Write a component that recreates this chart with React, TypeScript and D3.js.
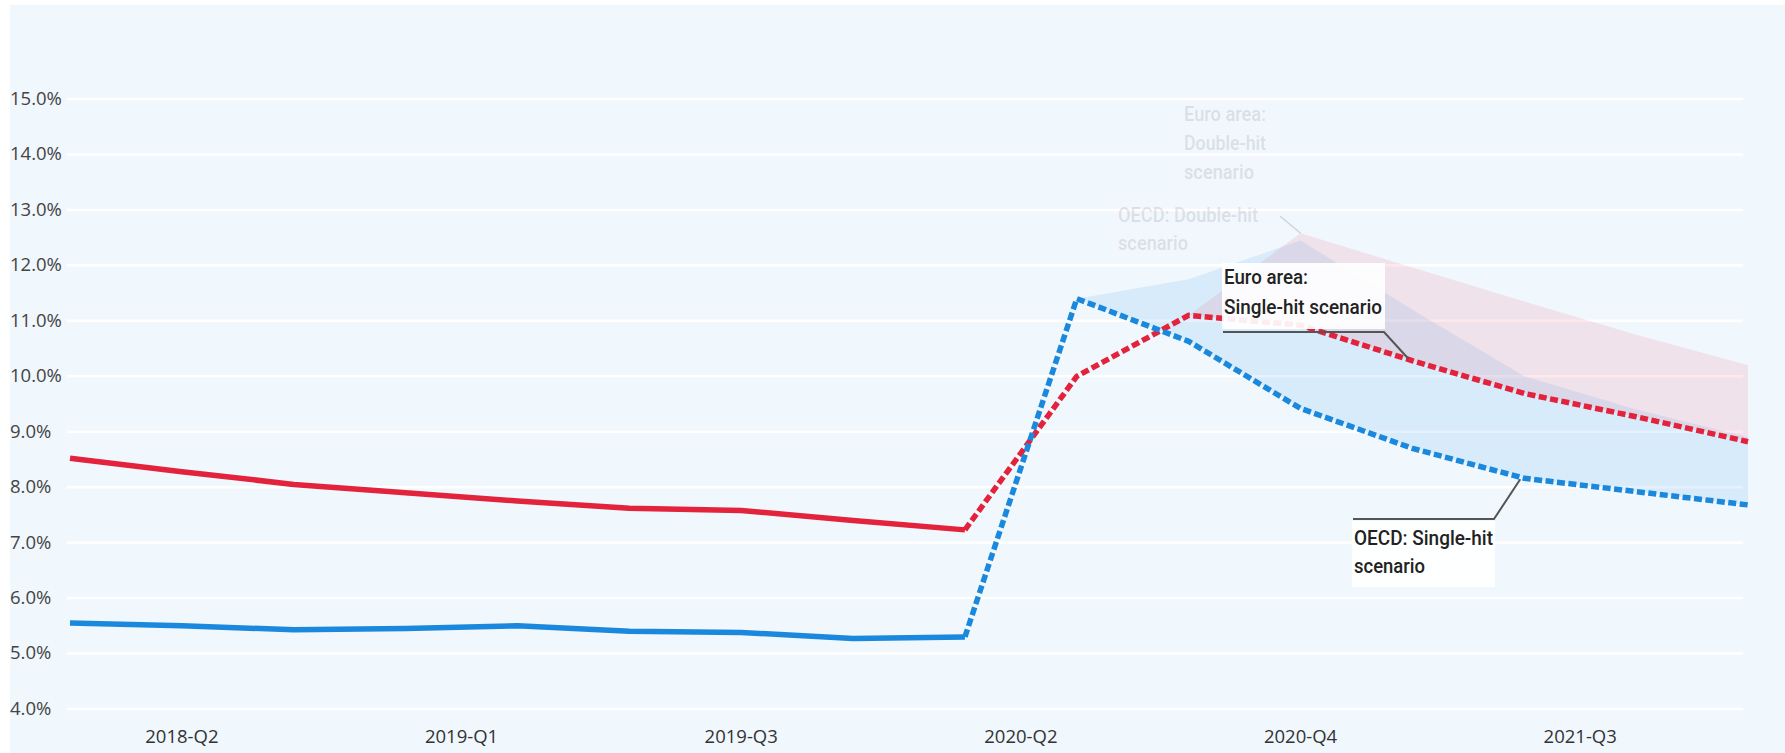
import React from "react";
import * as d3 from "d3";

const quarters = [
  "2018-Q1", "2018-Q2", "2018-Q3", "2018-Q4",
  "2019-Q1", "2019-Q2", "2019-Q3", "2019-Q4",
  "2020-Q1", "2020-Q2", "2020-Q3", "2020-Q4",
  "2021-Q1", "2021-Q2", "2021-Q3", "2021-Q4",
];
const euroSingle = [8.52, 8.28, 8.05, 7.9, 7.75, 7.62, 7.58, 7.4, 7.23, 10.0, 11.1, 10.92, 10.28, 9.69, 9.27, 8.82];
const oecdSingle = [5.55, 5.5, 5.43, 5.45, 5.5, 5.4, 5.38, 5.27, 5.3, 11.4, 10.63, 9.42, 8.7, 8.16, 7.92, 7.68];
const euroDouble: (number | null)[] = [null, null, null, null, null, null, null, null, null, null, 11.1, 12.58, 11.96, 11.35, 10.75, 10.2];
const oecdDouble: (number | null)[] = [null, null, null, null, null, null, null, null, null, 11.4, 11.75, 12.45, 11.2, 10.0, 9.4, 8.9];
const forecastStart = 8;
const yTicks = [4, 5, 6, 7, 8, 9, 10, 11, 12, 13, 14, 15];
const xTickPos = [1, 3.5, 6, 8.5, 11, 13.5];
const xTickLabels = ["2018-Q2", "2019-Q1", "2019-Q3", "2020-Q2", "2020-Q4", "2021-Q3"];

const W = 1785;
const H = 753;
const RED = "#e3223b";
const BLUE = "#1a88dd";

export default function App() {
  const x = d3.scaleLinear().domain([0, quarters.length - 1]).range([70, 1748]);
  const y = d3.scaleLinear().domain([4, 15]).range([709, 99]);
  const idx = quarters.map((_, i) => i);

  const mkLine = (vals: number[], from: number, to: number) =>
    d3
      .line<number>()
      .x((i) => x(i))
      .y((i) => y(vals[i]))(idx.slice(from, to + 1)) || "";

  const mkArea = (lo: number[], hi: (number | null)[]) =>
    d3
      .area<number>()
      .defined((i) => hi[i] != null)
      .x((i) => x(i))
      .y0((i) => y(lo[i]))
      .y1((i) => y(hi[i] as number))(idx) || "";

  const annFont = "Roboto, 'Noto Sans', sans-serif";
  const axisFont = "'Open Sans', 'Noto Sans', sans-serif";

  const euroLeadX = x(12);
  const euroLeadY = y(euroSingle[12]);
  const oecdLeadX = x(13);
  const oecdLeadY = y(oecdSingle[13]);
  const apexX = x(11);
  const apexY = y(euroDouble[11] as number);

  const ann = (tx: number, ty: number, s: string, len: number, key: string) => (
    <text
      key={key}
      x={tx}
      y={ty}
      fontFamily={annFont}
      fontWeight={500}
      fontSize={21}
      textLength={len}
      lengthAdjust="spacingAndGlyphs"
    >
      {s}
    </text>
  );

  return (
    <>
      <style>{`body{margin:0}`}</style>
      <svg width={W} height={H} style={{ display: "block" }}>
        <rect x={0} y={0} width={W} height={H} fill="#ffffff" />
        <rect x={10} y={5} width={W - 10} height={H - 5} fill="#f0f7fd" />

        {/* gridlines */}
        {yTicks.map((t) => (
          <line key={t} x1={67} x2={1743} y1={y(t)} y2={y(t)} stroke="#ffffff" strokeWidth={2.5} />
        ))}

        {/* y labels */}
        {yTicks.map((t) => (
          <text
            key={"l" + t}
            x={10}
            y={y(t) + 1}
            dominantBaseline="middle"
            fontFamily={axisFont}
            fontSize={18.5}
            fill="#444"
          >
            {d3.format(".1f")(t)}%
          </text>
        ))}

        {/* x labels */}
        {xTickPos.map((p, k) => (
          <text
            key={"x" + k}
            x={x(p)}
            y={738}
            textAnchor="middle"
            dominantBaseline="middle"
            fontFamily={axisFont}
            fontSize={18.5}
            fill="#333"
          >
            {xTickLabels[k]}
          </text>
        ))}

        {/* scenario areas */}
        <path d={mkArea(oecdSingle, oecdDouble)} fill="rgba(40,150,235,0.12)" />
        <path d={mkArea(euroSingle, euroDouble)} fill="rgba(240,70,100,0.12)" />

        {/* faint double-hit labels */}
        <g opacity={0.09} fill="#000">
          <rect x={1180} y={95} width={90} height={88} fill="#fff" />
          {ann(1184, 121, "Euro area:", 82, "e1")}
          {ann(1184, 150, "Double-hit", 82, "e2")}
          {ann(1184, 179, "scenario", 70, "e3")}
          <rect x={1114} y={195} width={160} height={62} fill="#fff" />
          {ann(1118, 222, "OECD: Double-hit", 140, "o1")}
          {ann(1118, 250, "scenario", 70, "o2")}
        </g>
        <line x1={1280} y1={216} x2={apexX} y2={apexY} stroke="#888" strokeWidth={1.5} opacity={0.3} />

        {/* lines */}
        <path d={mkLine(euroSingle, 0, forecastStart)} fill="none" stroke={RED} strokeWidth={5.5} strokeLinejoin="round" />
        <path d={mkLine(oecdSingle, 0, forecastStart)} fill="none" stroke={BLUE} strokeWidth={5.5} strokeLinejoin="round" />
        <path
          d={mkLine(euroSingle, forecastStart, quarters.length - 1)}
          fill="none"
          stroke={RED}
          strokeWidth={5.5}
          strokeDasharray="8,3.5"
        />
        <path
          d={mkLine(oecdSingle, forecastStart, quarters.length - 1)}
          fill="none"
          stroke={BLUE}
          strokeWidth={5.5}
          strokeDasharray="8,3.5"
        />

        {/* Euro single-hit annotation */}
        <rect x={1222} y={263} width={163} height={66} fill="#ffffff" opacity={0.92} />
        <g fill="#222">
          {ann(1224, 284, "Euro area:", 84, "a1")}
          {ann(1224, 314, "Single-hit scenario", 158, "a2")}
        </g>
        <polyline
          points={`1223,332 1384,332 ${euroLeadX - 4},${euroLeadY - 2}`}
          fill="none"
          stroke="#555"
          strokeWidth={2}
        />

        {/* OECD single-hit annotation */}
        <rect x={1352} y={521} width={143} height={66} fill="#ffffff" opacity={0.92} />
        <g fill="#222">
          {ann(1354, 545, "OECD: Single-hit", 139, "b1")}
          {ann(1354, 573, "scenario", 71, "b2")}
        </g>
        <polyline
          points={`1353,519 1494,519 ${oecdLeadX - 4},${oecdLeadY + 1}`}
          fill="none"
          stroke="#555"
          strokeWidth={2}
        />
      </svg>
    </>
  );
}
